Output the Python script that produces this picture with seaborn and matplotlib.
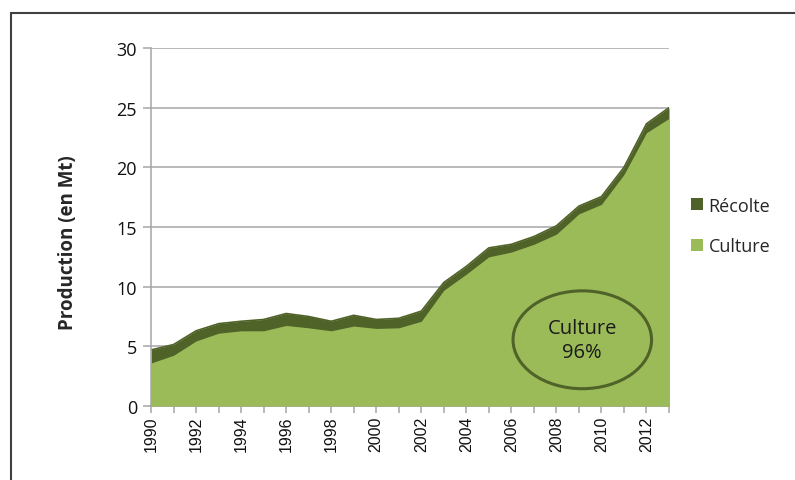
import numpy as np
import pandas as pd
import seaborn as sns
import matplotlib.pyplot as plt
from matplotlib.patches import Ellipse, Patch
from matplotlib.lines import Line2D

# data (production in Mt)
years = list(range(1990, 2014))
culture = [3.6, 4.25, 5.45, 6.1, 6.3, 6.3, 6.75, 6.55, 6.3, 6.7, 6.5, 6.55,
           7.1, 9.7, 11.05, 12.5, 12.9, 13.55, 14.4, 16.1, 16.9, 19.4, 22.9, 24.1]
total = [4.7, 5.15, 6.3, 6.9, 7.1, 7.25, 7.75, 7.5, 7.1, 7.6, 7.25, 7.35,
         7.95, 10.35, 11.7, 13.25, 13.55, 14.2, 15.1, 16.75, 17.55, 20.0, 23.65, 25.0]
series_names = ['Récolte', 'Culture']
colors = {'Récolte': '#4F6228', 'Culture': '#9BBB59'}
annot_text = 'Culture\n96%'

df = pd.DataFrame({'year': years, 'Culture': culture, 'Total': total})

sns.set_style('white')
plt.rcParams['font.family'] = ['Liberation Sans', 'DejaVu Sans']
calib = ['Open Sans', 'DejaVu Sans']

fig = plt.figure(figsize=(7.95, 4.81), dpi=100)
ax = fig.add_axes([151 / 795, 74 / 481, 518 / 795, 358 / 481])

# stacked areas
ax.fill_between(df['year'], 0, df['Total'], color=colors['Récolte'], lw=0, zorder=2)
ax.fill_between(df['year'], 0, df['Culture'], color=colors['Culture'], lw=0, zorder=3)
sns.lineplot(data=df, x='year', y='Total', color=colors['Récolte'], lw=1.2, ax=ax, zorder=2)

ax.set_xlim(1990, 2013)
ax.set_ylim(0, 30)
ax.set_yticks(range(0, 31, 5))
ax.set_xticks(years, minor=True)
ax.set_xticks(range(1990, 2013, 2))
ax.set_xticklabels([str(y) for y in range(1990, 2013, 2)], rotation=90,
                   fontsize=11.5, color='#111111')
ax.set_yticklabels([str(v) for v in range(0, 31, 5)], fontsize=13, color='#111111',
                   family=calib)
ax.grid(axis='y', color='#A6A6A6', lw=1.1, zorder=1)
ax.set_axisbelow(True)
for s in ['top', 'right']:
    ax.spines[s].set_visible(False)
for s in ['left', 'bottom']:
    ax.spines[s].set_color('#A6A6A6')
    ax.spines[s].set_linewidth(1.1)
ax.tick_params(axis='both', which='both', direction='out', color='#A6A6A6',
               length=6, width=1.1, left=True, bottom=True)
ax.tick_params(axis='x', which='both', length=5, pad=2)
ax.tick_params(axis='y', pad=4)
ax.set_xlabel('')
ax.set_ylabel('Production (en Mt)', fontsize=13.5, fontweight='bold', family=calib)
ax.yaxis.set_label_coords(-0.141, 0.46)

# annotation ellipse
ax.add_patch(Ellipse((2009.15, 5.55), 6.15, 8.2, fill=False,
                     edgecolor=colors['Récolte'], lw=2.2, zorder=5))
ax.text(2009.15, 5.55, annot_text, ha='center', va='center', fontsize=14.5,
        linespacing=1.25, color='#1a1a1a', family=calib, zorder=6)

handles = [Patch(facecolor=colors[n], edgecolor='none') for n in series_names]
leg = fig.legend(handles, series_names, loc='center left', bbox_to_anchor=(675 / 795, 1 - 227 / 481),
                 frameon=False, handlelength=0.65, handleheight=0.65,
                 handletextpad=0.3, labelspacing=1.25,
                 prop={'family': calib, 'size': 13})

# outer frame (top and left edges only)
fig.add_artist(Line2D([11 / 795, 1], [1 - 14 / 481, 1 - 14 / 481], color='#404040', lw=1.5))
fig.add_artist(Line2D([11 / 795, 11 / 795], [0, 1 - 14 / 481], color='#404040', lw=1.5))

fig.savefig('out.png', dpi=100)
